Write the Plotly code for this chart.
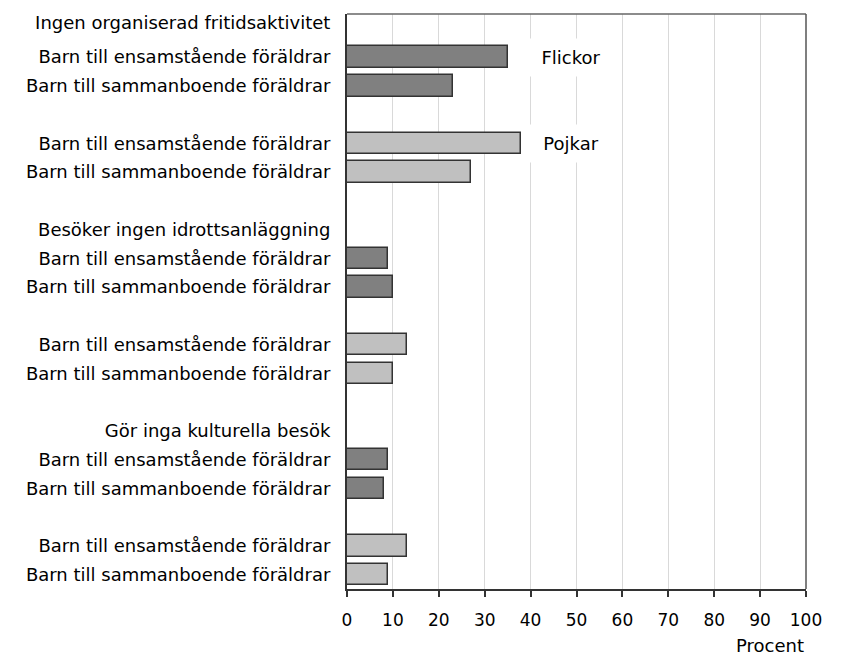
import plotly.graph_objects as go

# ---- data ----
groups = ["Ingen organiserad fritidsaktivitet",
          "Besöker ingen idrottsanläggning",
          "Gör inga kulturella besök"]
subgroups = ["Barn till ensamstående föräldrar",
             "Barn till sammanboende föräldrar"]
flickor = [[35, 23], [9, 10], [9, 8]]
pojkar = [[38, 27], [13, 10], [13, 9]]
x_ticks = [0, 10, 20, 30, 40, 50, 60, 70, 80, 90, 100]

FONT = "DejaVu Sans"
FS = 18

# row layout (each group: header, 2 girls rows, gap, 2 boys rows, gap)
tickvals, ticktext = [], []
f_y, f_x, p_y, p_x = [], [], [], []
for g, name in enumerate(groups):
    base = 7 * g
    tickvals.append(base - (0.2 if g == 0 else 0))
    ticktext.append(name)
    for k, sub in enumerate(subgroups):
        f_y.append(base + 1 + k); f_x.append(flickor[g][k])
        tickvals.append(base + 1 + k); ticktext.append(sub)
    for k, sub in enumerate(subgroups):
        p_y.append(base + 4 + k); p_x.append(pojkar[g][k])
        tickvals.append(base + 4 + k); ticktext.append(sub)

fig = go.Figure()
fig.add_trace(go.Bar(x=f_x, y=f_y, orientation="h", width=0.75,
                     marker=dict(color="#808080", line=dict(color="#333333", width=1.5)),
                     name="Flickor", showlegend=False))
fig.add_trace(go.Bar(x=p_x, y=p_y, orientation="h", width=0.75,
                     marker=dict(color="#c0c0c0", line=dict(color="#333333", width=1.5)),
                     name="Pojkar", showlegend=False))

for label, row in (("Flickor", 1), ("Pojkar", 4)):
    fig.add_annotation(x=48.8, y=row, xref="x", yref="y", text=label,
                       showarrow=False, bgcolor="white", width=96, height=35,
                       font=dict(family=FONT, size=FS, color="black"))

fig.add_annotation(x=1, y=0, xref="paper", yref="paper", text="Procent",
                   showarrow=False, xanchor="right", yanchor="middle",
                   yshift=-56,
                   font=dict(family=FONT, size=FS, color="black"))

# top and right border
fig.add_shape(type="line", xref="paper", yref="paper", x0=0, x1=1, y0=1, y1=1,
              line=dict(color="#666666", width=1.5))
fig.add_shape(type="line", xref="paper", yref="paper", x0=1, x1=1, y0=0, y1=1,
              line=dict(color="#555555", width=1.5))

fig.update_layout(
    width=834, height=655,
    margin=dict(l=347, r=18, t=13, b=66),
    paper_bgcolor="white", plot_bgcolor="white",
    bargap=0,
    font=dict(family=FONT, size=FS, color="black"),
    xaxis=dict(range=[0, 100], tickvals=x_ticks, showgrid=True,
               gridcolor="#d9d9d9", gridwidth=1, zeroline=False,
               showline=True, linecolor="#333333", linewidth=2,
               ticks="outside", ticklen=6, tickcolor="#333333", tickwidth=1.5,
               ticklabelstandoff=9, ticklabeloverflow="allow",
               tickfont=dict(family=FONT, size=17, color="black")),
    yaxis=dict(range=[19.5, -0.5], tickvals=tickvals, ticktext=ticktext,
               showgrid=False, zeroline=False,
               showline=True, linecolor="#333333", linewidth=2,
               ticks="", ticklabelstandoff=11,
               tickfont=dict(family=FONT, size=FS, color="black")),
)

fig.write_html(
    "out.html",
    config={"displayModeBar": False},
    post_script=(
        "document.body.style.margin='0';"
        "document.body.style.overflow='hidden';"
    ),
)
